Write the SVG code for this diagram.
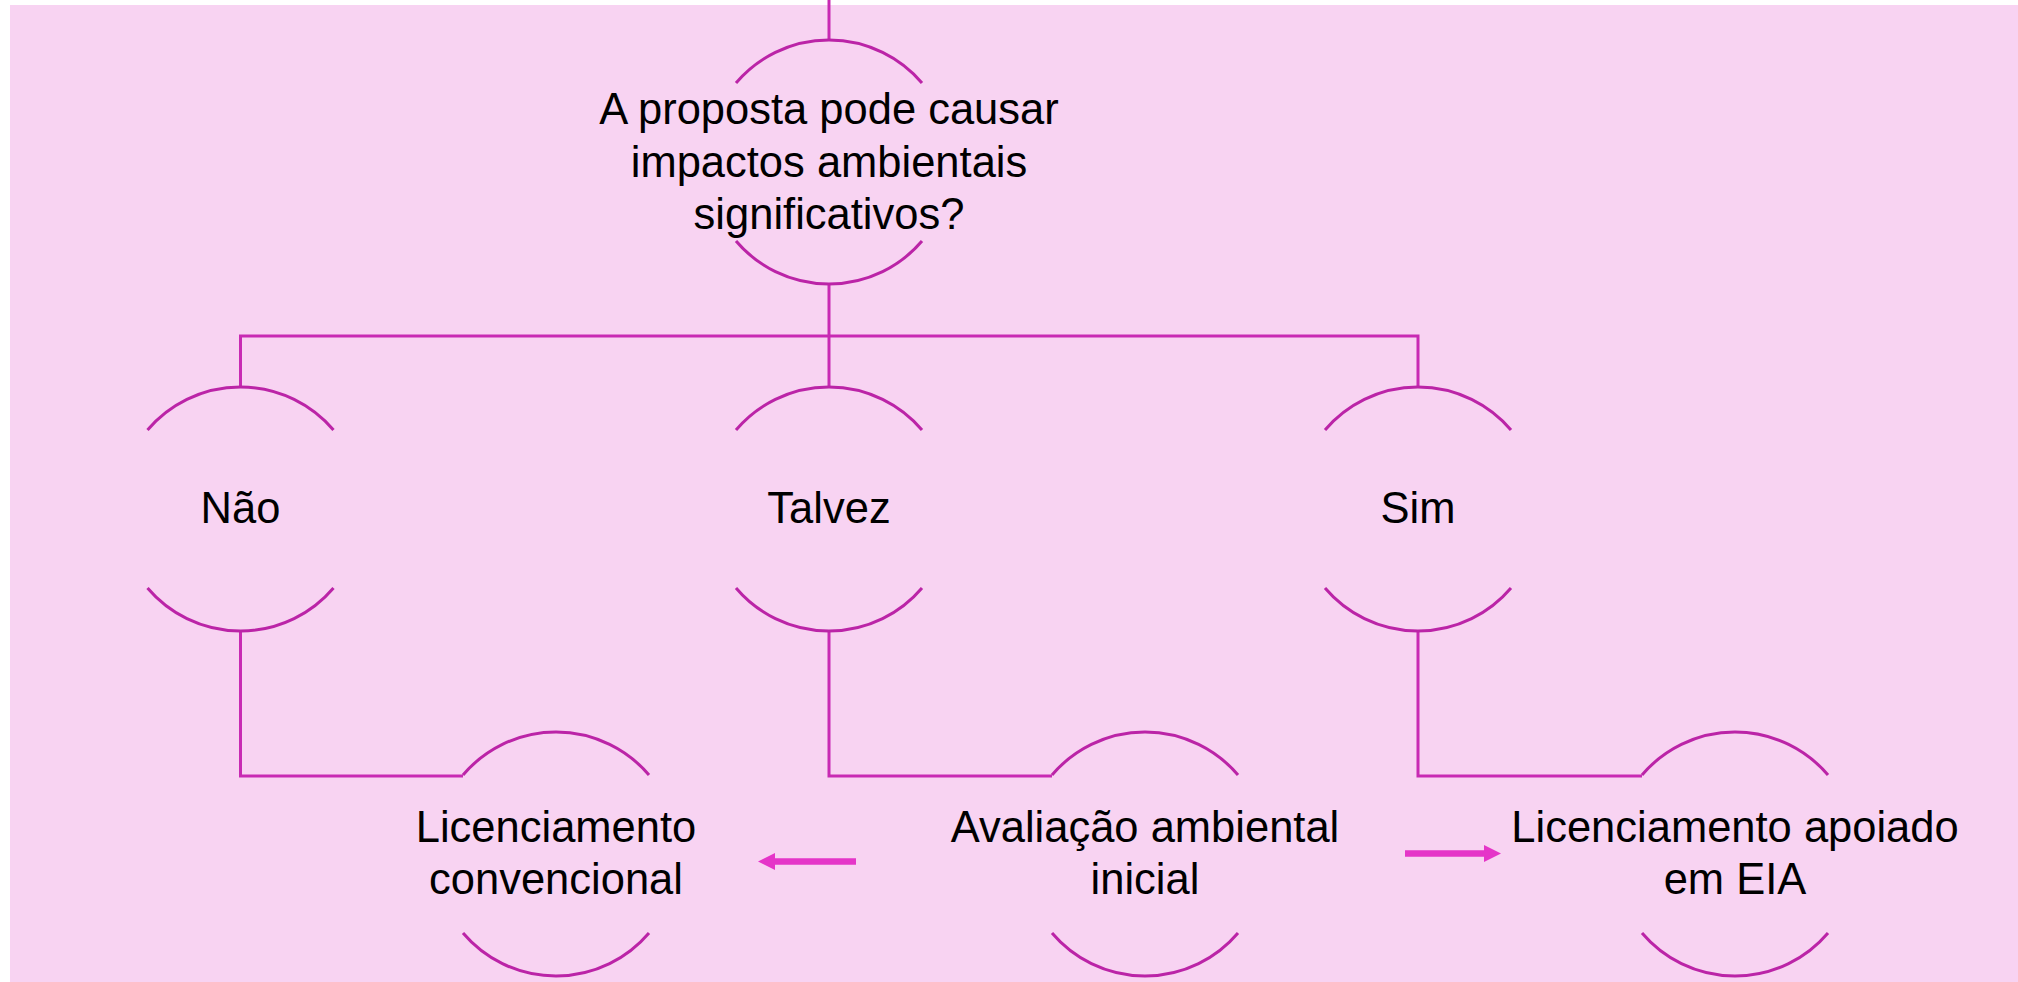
<svg xmlns="http://www.w3.org/2000/svg" width="2018" height="982" viewBox="0 0 2018 982">
  <defs>
    <style>
      .arc { fill: none; stroke: #BB24A7; stroke-width: 3; }
      .conn { fill: none; stroke: #C82AB3; stroke-width: 3; }
      .arrow { fill: none; stroke: #E535C8; stroke-width: 6.5; }
      .lbl { font-family: "Liberation Sans", Arial, sans-serif; font-size: 43.5px; fill: #000; text-anchor: middle; }
    </style>
    <marker id="ah" markerUnits="userSpaceOnUse" markerWidth="18" markerHeight="18" refX="0" refY="8.5" orient="auto">
      <path d="M0,0 L17,8.5 L0,17 Z" fill="#E535C8"/>
    </marker>
  </defs>
  <rect x="0" y="0" width="2018" height="982" fill="#FFFFFF"/>
  <rect x="10" y="5" width="2008" height="977" fill="#F8D3F2"/>

  <g id="connectors">
    <path class="conn" d="M829,0 V40"/>
    <path class="conn" d="M829,284 V387"/>
    <path class="conn" d="M240.5,387 V336 H1418 V387"/>
    <path class="conn" d="M240.5,631 V776 H463"/>
    <path class="conn" d="M829,631 V776 H1052"/>
    <path class="conn" d="M1418,631 V776 H1642"/>
    <path class="arrow" d="M856,861.5 H775" marker-end="url(#ah)"/>
    <path class="arrow" d="M1405,853.5 H1484" marker-end="url(#ah)"/>
  </g>

  <g id="node-question">
    <path class="arc" d="M736,83 A122,122 0 0 1 922,83"/>
    <path class="arc" d="M736,241 A122,122 0 0 0 922,241"/>
    <text class="lbl" x="829" y="124">A proposta pode causar</text>
    <text class="lbl" x="829" y="176.5">impactos ambientais</text>
    <text class="lbl" x="829" y="229">significativos?</text>
  </g>

  <g id="node-nao">
    <path class="arc" d="M147.5,430 A122,122 0 0 1 333.5,430"/>
    <path class="arc" d="M147.5,588 A122,122 0 0 0 333.5,588"/>
    <text class="lbl" x="240.5" y="523">Não</text>
  </g>

  <g id="node-talvez">
    <path class="arc" d="M736,430 A122,122 0 0 1 922,430"/>
    <path class="arc" d="M736,588 A122,122 0 0 0 922,588"/>
    <text class="lbl" x="829" y="523">Talvez</text>
  </g>

  <g id="node-sim">
    <path class="arc" d="M1325,430 A122,122 0 0 1 1511,430"/>
    <path class="arc" d="M1325,588 A122,122 0 0 0 1511,588"/>
    <text class="lbl" x="1418" y="523">Sim</text>
  </g>

  <g id="node-lic-conv">
    <path class="arc" d="M463,775 A122,122 0 0 1 649,775"/>
    <path class="arc" d="M463,933 A122,122 0 0 0 649,933"/>
    <text class="lbl" x="556" y="841.5">Licenciamento</text>
    <text class="lbl" x="556" y="894">convencional</text>
  </g>

  <g id="node-avaliacao">
    <path class="arc" d="M1052,775 A122,122 0 0 1 1238,775"/>
    <path class="arc" d="M1052,933 A122,122 0 0 0 1238,933"/>
    <text class="lbl" x="1145" y="841.5">Avaliação ambiental</text>
    <text class="lbl" x="1145" y="894">inicial</text>
  </g>

  <g id="node-lic-eia">
    <path class="arc" d="M1642,775 A122,122 0 0 1 1828,775"/>
    <path class="arc" d="M1642,933 A122,122 0 0 0 1828,933"/>
    <text class="lbl" x="1735" y="841.5">Licenciamento apoiado</text>
    <text class="lbl" x="1735" y="894">em EIA</text>
  </g>
</svg>
